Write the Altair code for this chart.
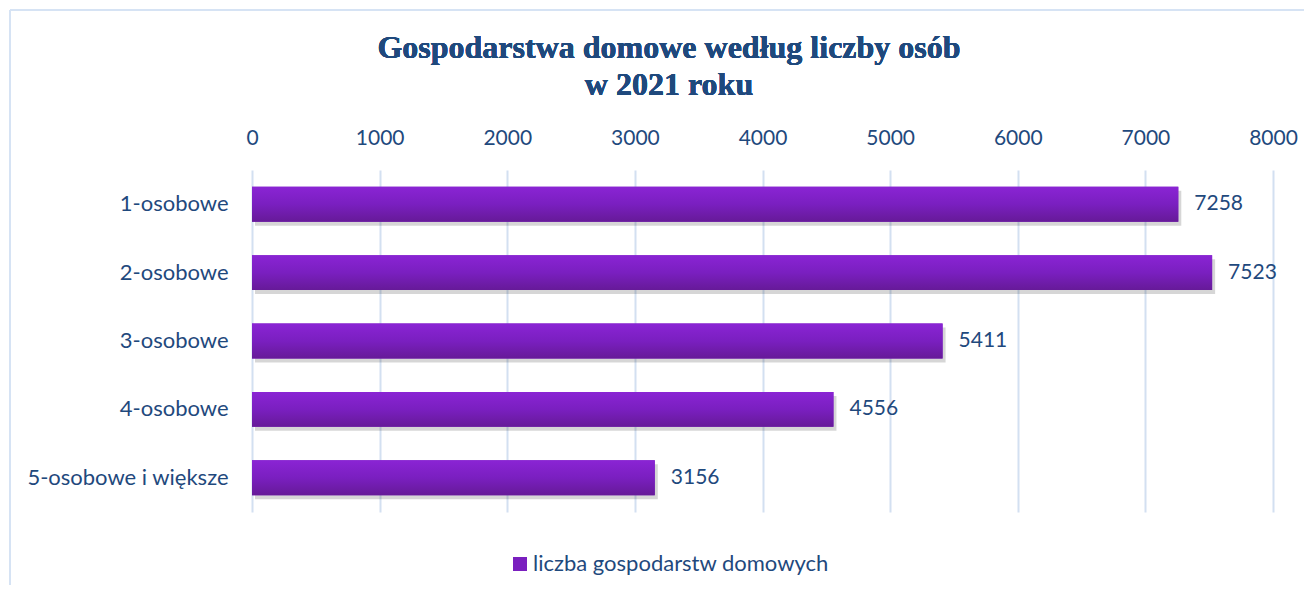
import altair as alt
import pandas as pd

categories = ["1-osobowe", "2-osobowe", "3-osobowe", "4-osobowe", "5-osobowe i większe"]
values = [7258, 7523, 5411, 4556, 3156]
series_name = "liczba gospodarstw domowych"
x_ticks = [0, 1000, 2000, 3000, 4000, 5000, 6000, 7000, 8000]
title_lines = ["Gospodarstwa domowe według liczby osób", "w 2021 roku"]

df = pd.DataFrame({"kategoria": categories, "wartosc": values, "seria": [series_name] * len(categories)})

TXT = "#1f497d"
GRID = "#d3e0f1"
W, H = 1021, 342
FS = 21
FS_CAT = 22

x_enc = alt.X("wartosc:Q", scale=alt.Scale(domain=[0, 8000], nice=False),
              axis=alt.Axis(orient="top", values=x_ticks, title=None, grid=True,
                            gridColor=GRID, gridWidth=2, domain=False, ticks=False,
                            labelFont="Lato", labelFontSize=FS, labelColor=TXT,
                            labelPadding=22, labelFlush=False, format="d"))
y_enc = alt.Y("kategoria:N", sort=categories,
              scale=alt.Scale(paddingInner=0.49, paddingOuter=0.245),
              axis=alt.Axis(title=None, domain=False, ticks=False, grid=False,
                            labelFont="Lato", labelFontSize=FS_CAT, labelColor=TXT,
                            labelPadding=24, labelLimit=0))

base = alt.Chart(df)

shadow = base.mark_bar(color="#000000", opacity=0.16, xOffset=3, yOffset=4).encode(
    x=x_enc, y=y_enc)

legend_bar = base.mark_bar().encode(
    x=x_enc, y=y_enc,
    color=alt.Color("seria:N", scale=alt.Scale(range=["#7a1fbf"]),
                    legend=alt.Legend(title=None, orient="none", legendX=257, legendY=383,
                                      symbolType="square", symbolSize=196, symbolStrokeWidth=0,
                                      labelFont="Lato", labelFontSize=FS_CAT, labelColor=TXT,
                                      labelOffset=2, padding=0, labelLimit=0)))

grad_bar = base.mark_bar(
    fill=alt.Gradient(gradient="linear", x1=0, y1=0, x2=0, y2=1,
                      stops=[alt.GradientStop(color="#8a24d4", offset=0),
                             alt.GradientStop(color="#7a1fc0", offset=0.5),
                             alt.GradientStop(color="#661a98", offset=1)])
).encode(x=x_enc, y=y_enc)

labels = base.mark_text(align="left", baseline="middle", dx=16, font="Lato",
                        fontSize=FS, color=TXT).encode(
    x=x_enc, y=y_enc, text=alt.Text("wartosc:Q", format="d"))

title = alt.Chart(df).mark_text(
    text=title_lines, font="Liberation Serif", fontSize=32, fontWeight="bold",
    color=TXT, align="center", baseline="alphabetic", lineHeight=37
).encode(x=alt.value(417), y=alt.value(-112))

frame_left = alt.Chart(df).mark_rule(color="#d6e3f4", strokeWidth=2).encode(
    x=alt.value(-242), y=alt.value(-160), y2=alt.value(500))
frame_top = alt.Chart(df).mark_rule(color="#d6e3f4", strokeWidth=2).encode(
    x=alt.value(-242), x2=alt.value(1100), y=alt.value(-160))

chart = alt.layer(frame_left, frame_top, shadow, legend_bar, grad_bar, labels, title).properties(
    width=W, height=H,
    autosize=alt.AutoSizeParams(type="none"),
    padding={"left": 244, "top": 162, "right": 31, "bottom": 73},
).configure_view(stroke=None)

chart.save("out.html", embed_options={"renderer": "svg", "actions": False})
